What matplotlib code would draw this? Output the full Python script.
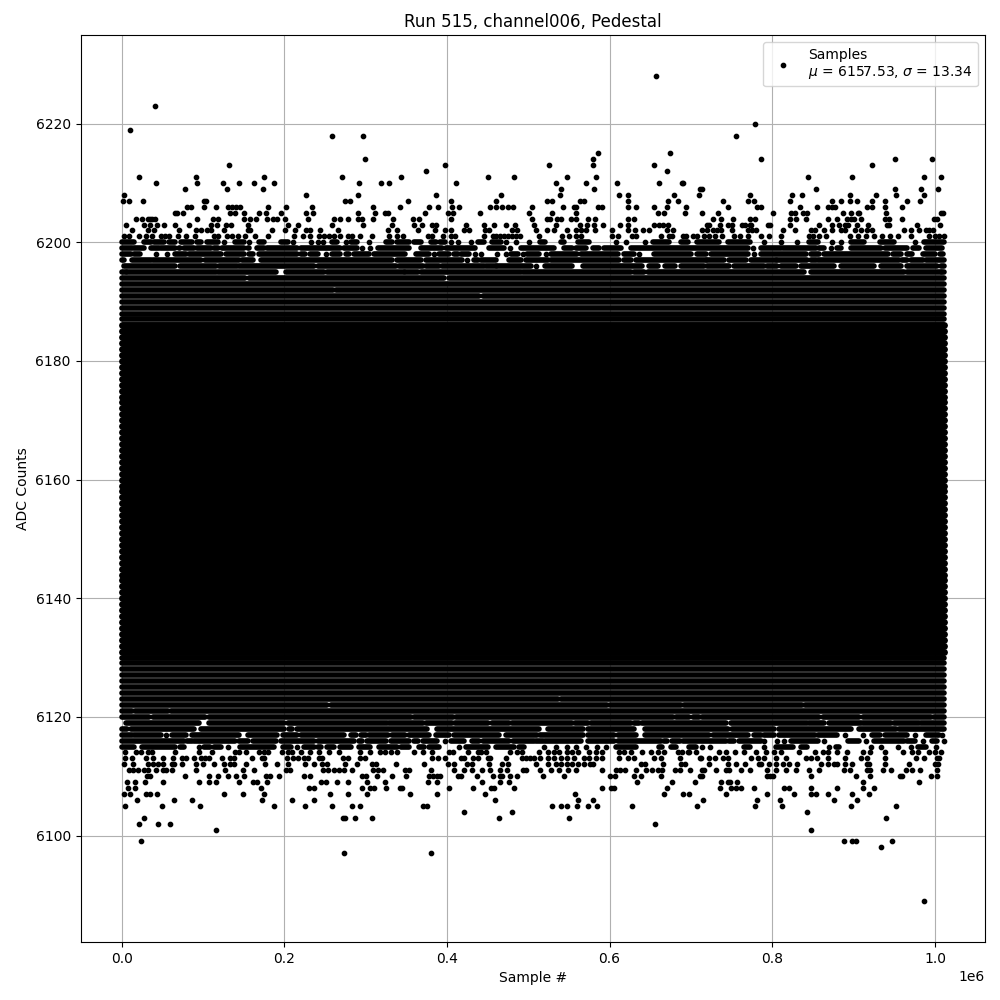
import matplotlib
matplotlib.use("Agg")
import matplotlib.pyplot as plt

TITLE = "Run 515, channel006, Pedestal"
XLABEL = "Sample #"
YLABEL = "ADC Counts"
MU = 6157.53
SIGMA = 13.34

# Isolated samples, read per ADC level; x in thousands of samples
samples_high = {
    6228: [657],
    6223: [41],
    6220: [779],
    6219: [10],
    6218: [259, 297, 756],
    6215: [586, 674],
    6214: [299, 580, 786, 951, 997],
    6213: [132, 397, 526, 580, 655, 923],
    6212: [374, 671],
    6211: [21, 92, 175, 271, 344, 451, 483, 548, 583, 844, 898, 987, 1007],
    6210: [42, 93, 125, 144, 163, 187, 292, 319, 329, 411, 534, 571, 609, 661, 689, 690],
    6209: [78, 130, 174, 540, 581, 711, 713, 854, 951, 983, 1004],
    6208: [3, 227, 291, 387, 467, 539, 612, 623, 679, 710, 773, 824, 836, 896, 927, 952, 986],
    6207: [2, 9, 26, 101, 104, 275, 281, 352, 405, 460, 523, 529, 563, 568, 622, 672, 684, 740, 770, 778, 822, 874, 885, 895, 904, 923, 938, 966, 982],
    6206: [80, 85, 101, 116, 131, 136, 141, 146, 180, 202, 234, 309, 342, 378, 389, 406, 415, 453, 460, 468, 475, 481, 504, 543, 556, 559, 586, 591, 623, 633, 655, 670, 694, 746, 781, 786, 834, 855, 868, 873, 877, 917, 922, 938, 960],
    6205: [66, 68, 76, 133, 139, 150, 169, 178, 196, 227, 235, 291, 312, 324, 328, 373, 401, 408, 441, 501, 529, 559, 659, 667, 693, 713, 733, 801, 823, 828, 838, 843, 887, 897, 905, 907, 940, 1008, 1010],
    6204: [18, 25, 32, 35, 37, 41, 93, 112, 119, 150, 158, 165, 179, 186, 191, 201, 229, 261, 269, 278, 291, 296, 309, 334, 358, 366, 405, 505, 523, 527, 535, 540, 553, 559, 574, 582, 622, 630, 727, 737, 752, 773, 779, 822, 829, 842, 868, 879, 892, 897, 901, 909, 938, 943, 959, 999, 1002],
    6203: [5, 28, 35, 44, 52, 66, 83, 110, 117, 128, 135, 155, 205, 217, 259, 297, 333, 360, 369, 382, 387, 424, 446, 458, 473, 484, 507, 534, 563, 572, 581, 592, 613, 623, 654, 661, 666, 672, 720, 722, 736, 745, 751, 763, 766, 772, 774, 795, 797, 822, 857, 873, 882, 889, 893, 904, 918, 941, 944, 978, 1006],
    6202: [13, 32, 40, 71, 91, 98, 105, 110, 126, 155, 158, 185, 201, 213, 227, 232, 244, 266, 328, 339, 365, 385, 397, 405, 421, 427, 447, 452, 480, 486, 510, 523, 532, 548, 559, 565, 571, 582, 603, 623, 631, 641, 649, 670, 678, 714, 720, 727, 732, 737, 751, 770, 775, 780, 813, 828, 847, 852, 864, 874, 884, 889, 902, 909, 917, 922, 962, 970, 981, 989, 993, 998],
    6201: [3, 9, 21, 30, 37, 48, 53, 58, 69, 79, 90, 114, 119, 130, 136, 143, 152, 164, 180, 212, 223, 232, 243, 249, 255, 261, 269, 278, 283, 293, 308, 329, 339, 346, 377, 382, 395, 405, 410, 446, 457, 460, 465, 470, 475, 480, 485, 490, 513, 542, 550, 559, 565, 603, 610, 628, 632, 663, 673, 677, 690, 694, 702, 708, 716, 722, 730, 738, 753, 760, 770, 786, 796, 811, 845, 850, 857, 866, 895, 905, 915, 925, 935, 945, 954, 970, 993, 1000, 1005, 1011],
}

samples_low = {
    6114: [4, 18, 24, 32, 37, 66, 95, 111, 139, 144, 153, 169, 175, 180, 197, 205, 210, 221, 232, 243, 255, 267, 293, 305, 318, 324, 331, 339, 360, 370, 382, 403, 407, 426, 438, 442, 448, 478, 486, 492, 513, 524, 532, 538, 548, 554, 561, 575, 583, 591, 612, 618, 626, 640, 651, 659, 667, 684, 696, 706, 689, 698, 735, 743, 754, 765, 780, 792, 802, 811, 833, 852, 862, 868, 879, 892, 911, 920, 939, 961, 972, 979, 993, 1000, 1008],
    6113: [4, 13, 30, 39, 51, 63, 74, 79, 89, 98, 103, 108, 123, 133, 138, 160, 173, 175, 203, 211, 217, 224, 229, 243, 246, 272, 278, 293, 299, 382, 389, 397, 417, 421, 432, 438, 451, 453, 472, 492, 497, 502, 507, 515, 524, 532, 540, 548, 556, 569, 575, 583, 591, 612, 622, 630, 655, 663, 686, 711, 712, 722, 729, 740, 745, 774, 782, 790, 804, 817, 842, 848, 855, 868, 889, 909, 916, 938, 977, 986, 1002, 1005],
    6112: [3, 14, 32, 39, 45, 51, 62, 64, 74, 91, 100, 114, 126, 133, 138, 153, 176, 191, 205, 226, 236, 246, 253, 275, 290, 308, 313, 337, 372, 401, 409, 425, 431, 452, 468, 475, 510, 524, 534, 540, 547, 554, 561, 568, 576, 579, 639, 644, 666, 688, 693, 722, 745, 756, 766, 784, 786, 796, 804, 813, 821, 831, 860, 868, 876, 880, 890, 898, 916, 919, 938, 968, 1000, 1004],
    6111: [9, 14, 20, 28, 32, 42, 51, 55, 62, 91, 127, 149, 163, 202, 207, 248, 254, 261, 267, 273, 283, 309, 315, 321, 349, 353, 381, 409, 421, 431, 443, 453, 465, 474, 494, 497, 515, 528, 538, 549, 559, 591, 608, 613, 619, 633, 645, 652, 660, 665, 681, 687, 699, 714, 716, 731, 743, 747, 762, 773, 794, 805, 817, 829, 845, 858, 888, 895, 916, 920, 936, 946, 965, 972, 982, 1002],
    6110: [31, 35, 78, 107, 119, 131, 141, 150, 178, 183, 194, 224, 232, 296, 301, 314, 333, 350, 378, 383, 388, 392, 414, 417, 437, 457, 465, 468, 478, 486, 518, 544, 600, 607, 630, 638, 663, 711, 714, 794, 797, 801, 847, 903, 920, 957, 960, 995, 1003],
    6109: [7, 16, 29, 51, 95, 107, 116, 144, 162, 167, 179, 245, 251, 265, 278, 302, 324, 377, 388, 443, 465, 476, 634, 677, 705, 737, 746, 748, 757, 911, 981],
    6108: [8, 16, 171, 230, 236, 296, 305, 310, 325, 342, 345, 403, 432, 454, 458, 483, 591, 602, 606, 671, 736, 749, 756, 762, 777, 815, 821, 847, 880, 911, 925],
    6107: [3, 10, 30, 35, 44, 126, 149, 175, 256, 278, 302, 355, 388, 447, 558, 667, 690, 698, 743, 793, 827, 848, 854, 868, 898, 919],
    6106: [19, 64, 87, 173, 210, 236, 459, 561, 579, 715, 781, 810, 876, 904],
    6105: [4, 50, 96, 187, 226, 259, 283, 293, 371, 376, 529, 540, 548, 560, 574, 585, 628, 708, 779, 812, 897, 952],
    6104: [421, 480, 843],
    6103: [28, 272, 275, 287, 308, 464, 550, 940],
    6102: [21, 45, 59, 656],
    6101: [116, 847],
    6099: [24, 888, 898, 903, 947],
    6098: [934],
    6097: [273, 380],
    6089: [986],
}

# Runs of overlapping samples per ADC level: (first, last) in thousands of samples
row_runs = {
    6200: [(0, 15), (27, 36), (40, 52), (58, 66), (73, 87), (93, 97), (105, 118), (126, 126), (140, 150), (157, 157), (169, 175), (196, 204), (211, 211), (233, 233), (241, 241), (248, 248), (259, 265), (276, 276), (282, 290), (304, 304), (325, 333), (339, 353), (360, 368), (380, 386), (392, 397), (405, 405), (414, 414), (429, 429), (438, 446), (456, 466), (472, 472), (485, 485), (501, 501), (515, 520), (540, 544), (561, 575), (608, 608), (620, 620), (643, 643), (653, 673), (688, 696), (708, 735), (745, 773), (790, 790), (811, 811), (831, 831), (845, 856), (874, 874), (884, 884), (897, 913), (932, 950), (975, 975), (987, 1011)],
    6199: [(0, 13), (15, 28), (36, 46), (48, 66), (70, 72), (77, 89), (93, 110), (114, 118), (124, 150), (155, 157), (167, 175), (179, 216), (220, 269), (274, 290), (296, 296), (306, 306), (315, 353), (368, 394), (399, 435), (452, 470), (478, 478), (491, 532), (544, 554), (559, 571), (579, 587), (593, 614), (626, 770), (776, 776), (786, 811), (813, 854), (858, 864), (872, 872), (880, 884), (897, 934), (938, 966), (973, 981), (989, 1009)],
    6198: [(0, 11), (15, 23), (42, 42), (56, 56), (66, 79), (83, 122), (128, 150), (157, 161), (169, 216), (220, 226), (232, 241), (251, 251), (259, 269), (276, 280), (286, 304), (310, 349), (362, 378), (384, 384), (390, 403), (409, 413), (417, 427), (435, 435), (442, 442), (462, 462), (472, 472), (479, 487), (493, 493), (499, 513), (522, 522), (528, 560), (565, 610), (618, 630), (636, 636), (655, 700), (708, 718), (725, 770), (778, 778), (786, 842), (848, 858), (864, 942), (948, 958), (966, 972), (985, 1000), (1006, 1010)],
    6197: [(0, 3), (13, 36), (38, 97), (103, 144), (148, 161), (171, 333), (339, 368), (374, 419), (425, 425), (433, 438), (442, 460), (476, 491), (497, 524), (528, 612), (618, 626), (632, 718), (720, 741), (747, 768), (774, 804), (806, 843), (847, 854), (856, 956), (960, 966), (970, 985), (989, 1011)],
    6196: [(3, 66), (72, 116), (120, 142), (144, 237), (241, 337), (341, 370), (374, 390), (394, 446), (448, 460), (462, 503), (509, 509), (520, 554), (567, 640), (648, 660), (668, 680), (688, 716), (720, 747), (753, 790), (794, 806), (811, 829), (835, 876), (884, 925), (934, 958), (966, 1003), (1007, 1011)],
    6195: [(1, 5), (7, 116), (118, 190), (202, 249), (253, 347), (349, 364), (368, 491), (493, 626), (630, 642), (647, 839), (847, 962), (966, 1007), (1009, 1011)],
    6194: [(0, 152), (157, 396), (402, 1011)],
    6192: [(0, 260), (264, 1011)],
    6191: [(0, 440), (444, 1011)],
    6123: [(0, 536), (540, 1011)],
    6122: [(0, 253), (257, 597), (601, 688), (692, 836), (840, 1011)],
    6121: [(0, 13), (17, 57), (61, 1011)],
    6120: [(0, 34), (38, 103), (107, 356), (360, 407), (411, 678), (682, 698), (702, 710), (714, 858), (862, 907), (911, 995), (999, 1011)],
    6119: [(5, 95), (107, 200), (204, 326), (329, 370), (374, 406), (410, 451), (455, 476), (480, 554), (558, 573), (577, 626), (630, 636), (640, 743), (749, 843), (845, 864), (870, 909), (911, 946), (950, 981), (983, 1011)],
    6118: [(0, 7), (11, 89), (97, 200), (206, 210), (216, 376), (388, 513), (524, 567), (573, 630), (643, 745), (751, 802), (808, 897), (907, 952), (956, 1011)],
    6117: [(1, 13), (15, 48), (54, 54), (62, 79), (87, 144), (155, 191), (198, 216), (220, 274), (282, 288), (294, 300), (304, 327), (333, 349), (353, 378), (386, 403), (409, 464), (472, 511), (515, 567), (573, 606), (610, 632), (643, 722), (727, 770), (778, 786), (790, 802), (808, 852), (856, 880), (890, 890), (911, 911), (923, 933), (938, 966), (975, 975), (989, 1005), (1009, 1009)],
    6116: [(0, 77), (80, 86), (89, 140), (144, 155), (161, 190), (196, 237), (241, 286), (292, 296), (302, 325), (331, 353), (360, 364), (370, 388), (397, 397), (405, 421), (431, 440), (444, 476), (481, 507), (509, 518), (520, 565), (573, 606), (610, 663), (667, 671), (677, 686), (690, 743), (747, 753), (759, 786), (790, 790), (806, 806), (815, 815), (823, 856), (864, 864), (893, 907), (915, 915), (925, 962), (966, 975), (985, 985), (997, 1003), (1011, 1011)],
    6115: [(0, 15), (25, 66), (72, 77), (95, 95), (101, 109), (114, 122), (131, 131), (146, 187), (198, 208), (216, 216), (224, 236), (241, 245), (253, 261), (269, 282), (292, 306), (316, 339), (343, 353), (366, 372), (378, 390), (415, 415), (423, 450), (460, 483), (489, 495), (519, 519), (534, 534), (548, 548), (559, 559), (571, 571), (585, 585), (595, 595), (608, 632), (661, 665), (675, 682), (698, 706), (714, 714), (724, 724), (765, 772), (790, 790), (804, 825), (835, 843), (870, 870), (878, 882), (921, 921), (934, 934), (954, 954), (970, 970), (979, 989), (1001, 1001)],
}
edge_levels = [v for v in list(range(6124, 6131)) + list(range(6187, 6194)) if v not in row_runs]
core_levels = list(range(6131, 6187))
full_run = (0, 1011)

SCALE = 1000
ROW_WIDTH = 4.05
CORE_WIDTH = 5.0
MARKER = 6.2

fig, ax = plt.subplots(figsize=(10, 10), dpi=100)
fig.subplots_adjust(left=0.0805, right=0.985, top=0.965, bottom=0.058)

xs, ys = [], []
for group in (samples_high, samples_low):
    for level, values in group.items():
        for v in values:
            xs.append(v * SCALE)
            ys.append(level)
for level, runs in row_runs.items():
    for first, last in runs:
        if first == last:
            xs.append(first * SCALE)
            ys.append(level)
        else:
            ax.hlines(level, first * SCALE, last * SCALE, colors="black",
                      linewidth=ROW_WIDTH, capstyle="round", zorder=2)
for level in edge_levels:
    ax.hlines(level, full_run[0] * SCALE, full_run[1] * SCALE, colors="black",
              linewidth=ROW_WIDTH, capstyle="round", zorder=2)
for level in core_levels:
    ax.hlines(level, full_run[0] * SCALE, full_run[1] * SCALE, colors="black",
              linewidth=CORE_WIDTH, capstyle="round", zorder=2)

ax.plot(xs, ys, linestyle="none", marker=".", markersize=MARKER, color="black",
        label=f"Samples\n$\\mu$ = {MU:.2f}, $\\sigma$ = {SIGMA:.2f}")

ax.set_title(TITLE)
ax.set_xlabel(XLABEL)
ax.set_ylabel(YLABEL)
ax.grid(True)
ax.legend(loc="upper right")
fig.savefig("out.png", dpi=100)
